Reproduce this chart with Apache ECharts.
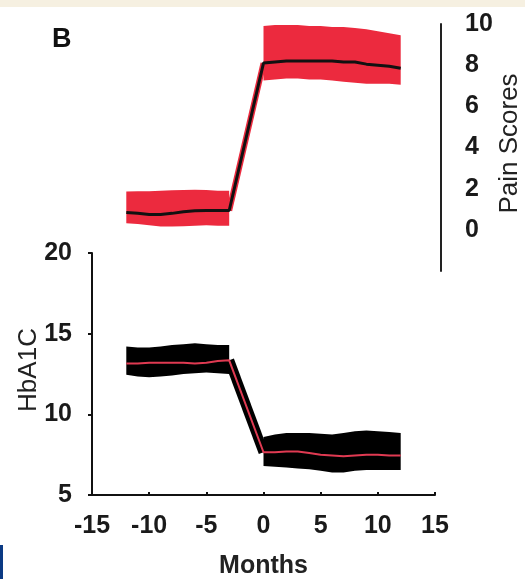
<!DOCTYPE html>
<html><head><meta charset="utf-8">
<script src="https://cdn.jsdelivr.net/npm/echarts@6/dist/echarts.min.js"></script>
<style>html,body{margin:0;padding:0;background:#fff}#c{width:525px;height:579px}</style>
</head><body><div id="c"></div>
<script>
// ---- data ----
const preMonths  = [-12,-11,-10,-9,-8,-7,-6,-5,-4,-3];
const postMonths = [0,1,2,3,4,5,6,7,8,9,10,11,12];

const painPreMean  = [0.84,0.8,0.75,0.75,0.8,0.88,0.93,0.94,0.94,0.94];
const painPreUpper = [1.86,1.87,1.88,1.9,1.92,1.94,1.95,1.93,1.9,1.9];
const painPreLower = [0.32,0.28,0.22,0.16,0.16,0.18,0.2,0.22,0.2,0.2];
const painPostMean  = [8.1,8.15,8.2,8.2,8.2,8.2,8.2,8.15,8.15,8.05,8.0,7.95,7.85];
const painPostUpper = [9.9,9.95,9.95,9.95,9.9,9.9,9.85,9.85,9.8,9.75,9.65,9.55,9.45];
const painPostLower = [7.25,7.3,7.35,7.35,7.3,7.3,7.25,7.2,7.15,7.1,7.1,7.1,7.05];

const hbaPreMean  = [13.15,13.15,13.2,13.2,13.2,13.2,13.15,13.2,13.3,13.35];
const hbaPreUpper = [14.2,14.15,14.15,14.2,14.3,14.35,14.4,14.35,14.3,14.3];
const hbaPreLower = [12.45,12.35,12.3,12.35,12.4,12.5,12.55,12.6,12.55,12.5];
const hbaPostMean  = [7.65,7.65,7.7,7.7,7.6,7.5,7.45,7.4,7.45,7.5,7.5,7.45,7.45];
const hbaPostUpper = [8.6,8.75,8.85,8.85,8.85,8.8,8.75,8.85,8.95,9.0,8.95,8.9,8.85];
const hbaPostLower = [6.8,6.75,6.7,6.65,6.6,6.5,6.4,6.4,6.5,6.55,6.55,6.55,6.55];

// ---- build ----
const FONT = '"Liberation Sans", Arial, sans-serif';
function bandData(xs, lo, hi){ return xs.map((x,i)=>[x, lo[i], hi[i]]); }
function lineData(xs, ys){ return xs.map((x,i)=>[x, ys[i]]); }
function bandSeries(xi, yi, data, color){
  return {
    type:'custom', xAxisIndex:xi, yAxisIndex:yi, data:data, z:1, silent:true,
    encode:{x:0, y:[1,2]},
    renderItem:function(params, api){
      if (params.dataIndex !== 0) return null;
      const top = data.map(d=>api.coord([d[0], d[2]]));
      const bot = data.slice().reverse().map(d=>api.coord([d[0], d[1]]));
      return {type:'polygon', shape:{points: top.concat(bot)}, style:{fill:color}};
    }
  };
}
const painMean = lineData(preMonths.concat(postMonths), painPreMean.concat(painPostMean));
const hbaMean  = lineData(preMonths.concat(postMonths), hbaPreMean.concat(hbaPostMean));
const painJump = [[preMonths[preMonths.length-1], painPreMean[painPreMean.length-1]],[postMonths[0], painPostMean[0]]];
const hbaJump  = [[preMonths[preMonths.length-1], hbaPreMean[hbaPreMean.length-1]],[postMonths[0], hbaPostMean[0]]];

const RED = '#ec2a3e';
const labelStyle = {color:'#1a1a1a', fontSize:25, fontWeight:'bold', fontFamily:FONT};

const chart = echarts.init(document.getElementById('c'), null, {renderer:'canvas'});
chart.setOption({
  animation:false,
  backgroundColor:'#fff',
  title:{text:'B', left:47, top:21, textStyle:{fontSize:27, fontWeight:'bold', color:'#111', fontFamily:FONT}},
  graphic:[
    {type:'rect', left:0, top:0, shape:{width:525, height:7}, style:{fill:'#f6f0e1'}},
    {type:'rect', left:0, top:545, shape:{width:3, height:34}, style:{fill:'#0b3a84'}}
  ],
  grid:[
    {left:92, width:343, top:24, height:247, containLabel:false, outerBoundsMode:'none'},
    {left:92, width:343, top:253, height:242, containLabel:false, outerBoundsMode:'none'}
  ],
  xAxis:[
    {gridIndex:0, type:'value', min:-15, max:15, interval:5, show:false},
    {gridIndex:1, type:'value', min:-15, max:15, interval:5,
     axisLine:{onZero:false, lineStyle:{color:'#111', width:2}},
     axisTick:{show:true, inside:true, length:3, lineStyle:{color:'#111', width:2}},
     axisLabel:Object.assign({margin:19, showMinLabel:true, showMaxLabel:true}, labelStyle),
     splitLine:{show:false},
     name:'Months', nameLocation:'middle', nameGap:59, nameMoveOverlap:false,
     nameTextStyle:{fontSize:25, fontWeight:'bold', color:'#222', fontFamily:FONT}}
  ],
  yAxis:[
    {gridIndex:0, type:'value', position:'right', offset:6, min:-2, max:10, interval:2,
     axisLine:{show:true, onZero:false, lineStyle:{color:'#222', width:2}},
     axisTick:{show:false},
     axisLabel:Object.assign({margin:24, align:'left', formatter:v=> v<0 ? '' : String(v)}, labelStyle),
     splitLine:{show:false},
     name:'Pain Scores', nameLocation:'middle', nameRotate:90, nameGap:56, nameMoveOverlap:false,
     nameTextStyle:{fontSize:26, color:'#222', fontFamily:FONT, padding:[0,0,0,8]}},
    {gridIndex:1, type:'value', min:5, max:20, interval:5,
     axisLine:{show:true, onZero:false, lineStyle:{color:'#111', width:2}},
     axisTick:{show:true, length:4, lineStyle:{color:'#111', width:2}},
     axisLabel:Object.assign({margin:20}, labelStyle),
     splitLine:{show:false},
     name:'HbA1C', nameLocation:'middle', nameRotate:90, nameGap:50, nameMoveOverlap:false,
     nameTextStyle:{fontSize:26, color:'#222', fontFamily:FONT, padding:[0,0,0,8]}}
  ],
  series:[
    bandSeries(0,0,bandData(preMonths, painPreLower, painPreUpper), RED),
    bandSeries(0,0,bandData(postMonths, painPostLower, painPostUpper), RED),
    {type:'line', xAxisIndex:0, yAxisIndex:0, data:painJump, symbol:'none', z:2, lineStyle:{color:RED, width:6}},
    {type:'line', xAxisIndex:0, yAxisIndex:0, data:painMean, symbol:'none', z:3, lineStyle:{color:'#111', width:3}},
    bandSeries(1,1,bandData(preMonths, hbaPreLower, hbaPreUpper), '#000'),
    bandSeries(1,1,bandData(postMonths, hbaPostLower, hbaPostUpper), '#000'),
    {type:'line', xAxisIndex:1, yAxisIndex:1, data:hbaJump, symbol:'none', z:2, lineStyle:{color:'#000', width:10}},
    {type:'line', xAxisIndex:1, yAxisIndex:1, data:hbaMean, symbol:'none', z:3, lineStyle:{color:'#e03a52', width:2}}
  ]
});
</script></body></html>
